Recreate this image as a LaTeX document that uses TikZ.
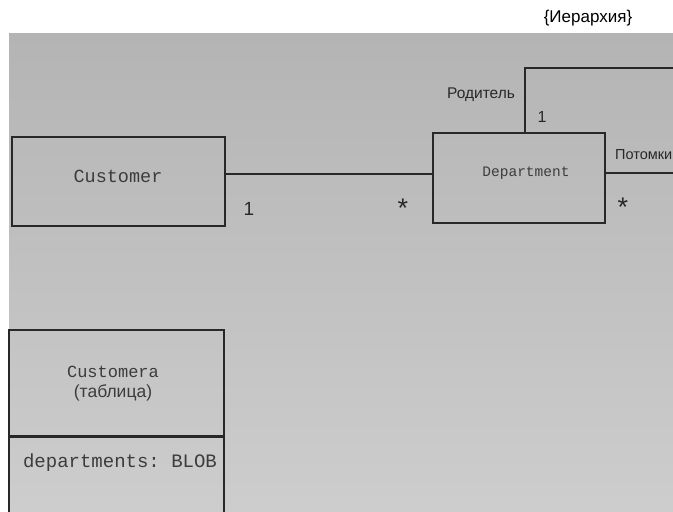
\documentclass[tikz,border=0pt]{standalone}
\usepackage{fontspec}
\setmainfont{Liberation Sans}
\setsansfont{Liberation Sans}
\setmonofont{Liberation Mono}
\definecolor{ink}{RGB}{40,40,40}
\definecolor{monoink}{RGB}{60,60,60}
\definecolor{paperTop}{RGB}{180,180,180}
\definecolor{paperBot}{RGB}{205,205,205}
\tikzset{
  umlbox/.style={draw=ink, line width=1.4pt, rectangle, inner sep=0pt},
  monolabel/.style={font=\ttfamily, text=monoink, inner sep=0pt},
  sanslabel/.style={font=\sffamily, text=ink, inner sep=0pt},
  conn/.style={draw=ink, line width=1.4pt},
}
\begin{document}
\begin{tikzpicture}[x=1pt,y=-1pt]
\useasboundingbox (0,0) rectangle (673,512);
\clip (0,0) rectangle (673,512);
% scanned page background
\shade[top color=paperTop, bottom color=paperBot] (9,33) rectangle (673,512);

\node[sanslabel, text=black, font=\fontsize{17}{20}\selectfont\sffamily] (hier) at (588,18) {\{Иерархия\}};

% Customer class
\node[umlbox, minimum width=213pt, minimum height=89pt] (Customer) at (118.5,181.5) {};
\node[monolabel, font=\fontsize{18.5}{20}\selectfont\ttfamily] (custtxt) at (118,176) {Customer};

% Department class
\node[umlbox, minimum width=172pt, minimum height=90pt] (Department) at (519,178) {};
\node[monolabel, font=\fontsize{14.5}{17}\selectfont\ttfamily] (deptxt) at (526,173) {Department};

% association Customer - Department
\draw[conn] ([yshift=7.5pt]Customer.east) -- ([yshift=7.5pt]Customer.east -| Department.west);
\node[sanslabel, font=\fontsize{19}{20}\selectfont\sffamily] (m1) at (249,209) {1};
\node[sanslabel, font=\fontsize{27}{28}\selectfont\sffamily] (m2) at (403,208) {*};

% self association (hierarchy)
\coordinate (loopR) at (700,68);
\draw[conn] ([xshift=6pt]Department.north) |- (loopR) |- ([yshift=5pt]Department.east);
\node[sanslabel, font=\fontsize{15.5}{18}\selectfont\sffamily] (parent) at (481,95) {Родитель};
\node[sanslabel, font=\fontsize{16}{18}\selectfont\sffamily] (p1) at (542,117) {1};
\node[sanslabel, font=\fontsize{14.5}{18}\selectfont\sffamily, anchor=west] (children) at (615,155) {Потомки};
\node[sanslabel, font=\fontsize{27}{28}\selectfont\sffamily] (c2) at (623,207) {*};

% Customers table
\node[umlbox, minimum width=215pt, minimum height=106pt] (tabhead) at (116.5,383) {};
\node[umlbox, minimum width=215pt, minimum height=124pt, anchor=north] (tabbody) at (tabhead.south) {};
\node[monolabel, font=\fontsize{17}{20}\selectfont\ttfamily] (tabname) at (113,372) {Customera};
\node[sanslabel, text=monoink, font=\fontsize{17.5}{20}\selectfont\sffamily] (tabsub) at (113,393) {(таблица)};
\node[monolabel, font=\fontsize{19}{22}\selectfont\ttfamily] (attr) at (120,463) {departments: BLOB};
\end{tikzpicture}
\end{document}
